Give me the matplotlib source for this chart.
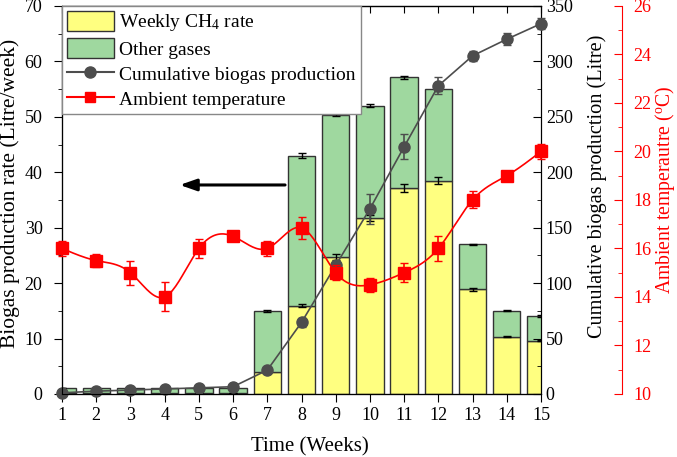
import numpy as np
import matplotlib
matplotlib.use("Agg")
import matplotlib.pyplot as plt
from matplotlib.ticker import MultipleLocator
from matplotlib.patches import Patch
from matplotlib.lines import Line2D

plt.rcParams['font.family'] = ['Liberation Serif', 'DejaVu Serif']
plt.rcParams['mathtext.fontset'] = 'custom'
plt.rcParams['mathtext.rm'] = 'Liberation Serif'
plt.rcParams['mathtext.it'] = 'Liberation Serif:italic'

# data
weeks = np.arange(1, 16)
total_rate = [1.0, 1.0, 1.0, 1.0, 1.0, 1.0, 15.0, 43.0, 50.4, 52.0, 57.1, 55.0, 27.0, 15.0, 14.0]
total_err = [0, 0, 0, 0, 0, 0, 0.2, 0.4, 0.3, 0.3, 0.3, 0.3, 0.1, 0.1, 0.2]
ch4_rate = [0.2, 0.2, 0.2, 0.2, 0.2, 0.2, 4.0, 15.9, 24.7, 31.7, 37.1, 38.5, 18.9, 10.3, 9.6]
ch4_err = [0, 0, 0, 0, 0, 0, 0.1, 0.3, 0.5, 0.5, 0.7, 0.7, 0.3, 0.1, 0.1]
other_rate = [t - c for t, c in zip(total_rate, ch4_rate)]
cumulative = [1, 2.5, 3.5, 4.5, 5.5, 6.5, 21.5, 64.5, 116, 167, 223, 278, 305, 320, 334]
cum_err = [0, 0, 0, 0, 0, 0, 1, 4, 3, 13.5, 11.5, 7.7, 4.5, 5.5, 5]
temperature = [16.0, 15.5, 15.0, 14.0, 16.0, 16.5, 16.0, 16.85, 15.0, 14.5, 15.0, 16.0, 18.0, 19.0, 20.0]
temp_err = [0.3, 0.25, 0.5, 0.6, 0.4, 0.15, 0.3, 0.45, 0.3, 0.3, 0.4, 0.5, 0.35, 0.2, 0.3]


def natural_spline(x, y, xs):
    x = np.asarray(x, float)
    y = np.asarray(y, float)
    n = len(x)
    h = np.diff(x)
    A = np.zeros((n, n))
    rhs = np.zeros(n)
    A[0, 0] = A[-1, -1] = 1
    for i in range(1, n - 1):
        A[i, i - 1] = h[i - 1]
        A[i, i] = 2 * (h[i - 1] + h[i])
        A[i, i + 1] = h[i]
        rhs[i] = 3 * ((y[i + 1] - y[i]) / h[i] - (y[i] - y[i - 1]) / h[i - 1])
    c = np.linalg.solve(A, rhs)
    b = (y[1:] - y[:-1]) / h - h * (2 * c[:-1] + c[1:]) / 3
    d = (c[1:] - c[:-1]) / (3 * h)
    idx = np.clip(np.searchsorted(x, xs) - 1, 0, n - 2)
    dx = xs - x[idx]
    return y[idx] + b[idx] * dx + c[idx] * dx ** 2 + d[idx] * dx ** 3


yellow = '#ffff80'
green = '#9fd89f'
grey = '#4d4d4d'

fig = plt.figure(figsize=(6.77, 4.57), dpi=100)
ax = fig.add_axes([0.0916, 0.138, 0.7075, 0.849])

# stacked bars
ax.bar(weeks, ch4_rate, width=0.8, color=yellow, edgecolor='#333333', linewidth=1)
ax.bar(weeks, other_rate, bottom=ch4_rate, width=0.8, color=green, edgecolor='#333333', linewidth=1)
ax.errorbar(weeks, total_rate, yerr=total_err, fmt='none', ecolor='black', capsize=3, elinewidth=1)
ax.errorbar(weeks, ch4_rate, yerr=ch4_err, fmt='none', ecolor='black', capsize=3, elinewidth=1)

ax.set_xlim(1, 15)
ax.set_ylim(0, 70)
ax.set_xticks(weeks)
ax.yaxis.set_major_locator(MultipleLocator(10))
ax.yaxis.set_minor_locator(MultipleLocator(5))
ax.tick_params(axis='both', which='both', direction='out', labelsize=13, right=False, top=False)
ax.tick_params(which='major', length=6)
ax.tick_params(which='minor', length=3)
ax.tick_params(axis='y', pad=8)
ax.set_xlabel('Time (Weeks)', fontsize=15)
ax.xaxis.set_label_coords(0.518, -0.111)
ax.set_ylabel('Biogas production rate (Litre/week)', fontsize=15.5)
ax.yaxis.set_label_coords(-0.088, 0.518)

top = ax.secondary_xaxis('top')
top.set_xticks(weeks)
top.tick_params(direction='in', length=5, labeltop=False)

ax.annotate('', xy=(4.36, 37.7), xytext=(7.6, 37.7),
            arrowprops=dict(arrowstyle='-|>,head_length=1.0,head_width=0.35', color='black', lw=2.2))

# cumulative production
ax2 = ax.twinx()
ax2.errorbar(weeks, cumulative, yerr=cum_err, color=grey, marker='o', markersize=8,
             lw=1.2, capsize=3, elinewidth=1.2, clip_on=False, zorder=5)
ax2.set_ylim(0, 350)
ax2.yaxis.set_major_locator(MultipleLocator(50))
ax2.yaxis.set_minor_locator(MultipleLocator(25))
ax2.tick_params(axis='y', which='both', direction='in', labelsize=13)
ax2.tick_params(which='major', length=6)
ax2.tick_params(which='minor', length=3)
ax2.set_ylabel('Cumulative biogas production (Litre)', fontsize=14.6)
ax2.yaxis.set_label_coords(1.096, 0.534)

# ambient temperature
ax3 = ax.twinx()
ax3.spines['right'].set_position(('axes', 1.169))
ax3.spines['right'].set_color('red')
xs = np.linspace(1, 15, 300)
ax3.plot(xs, natural_spline(weeks, temperature, xs), color='red', lw=1.2, zorder=5)
ax3.errorbar(weeks, temperature, yerr=temp_err, fmt='s', color='red', markersize=8,
             capsize=3, elinewidth=1.2, clip_on=False, zorder=6)
ax3.set_ylim(10, 26)
ax3.yaxis.set_major_locator(MultipleLocator(2))
ax3.yaxis.set_minor_locator(MultipleLocator(1))
ax3.tick_params(axis='y', which='both', direction='in', colors='red', labelsize=13, pad=8)
ax3.tick_params(which='major', length=6)
ax3.tick_params(which='minor', length=3)
ax3.set_ylabel(r'Ambient temperautre ($^{\rm o}$C)', fontsize=14.2, color='red')
ax3.yaxis.set_label_coords(1.234, 0.526)

handles = [
    Patch(facecolor=yellow, edgecolor='#333333', label=r'Weekly CH$_4$ rate'),
    Patch(facecolor=green, edgecolor='#333333', label='Other gases'),
    Line2D([], [], color=grey, marker='o', markersize=8, label='Cumulative biogas production'),
    Line2D([], [], color='red', marker='s', markersize=7, label='Ambient temperature'),
]
leg = ax3.legend(handles=handles, loc='upper left', bbox_to_anchor=(0, 1), borderaxespad=0,
                 fontsize=14, fancybox=False, edgecolor='#888888', framealpha=1,
                 handlelength=2.4, handleheight=1.2, labelspacing=0.25, handletextpad=0.3,
                 borderpad=0.25)
leg.set_zorder(20)

fig.savefig('out.png', dpi=100)
